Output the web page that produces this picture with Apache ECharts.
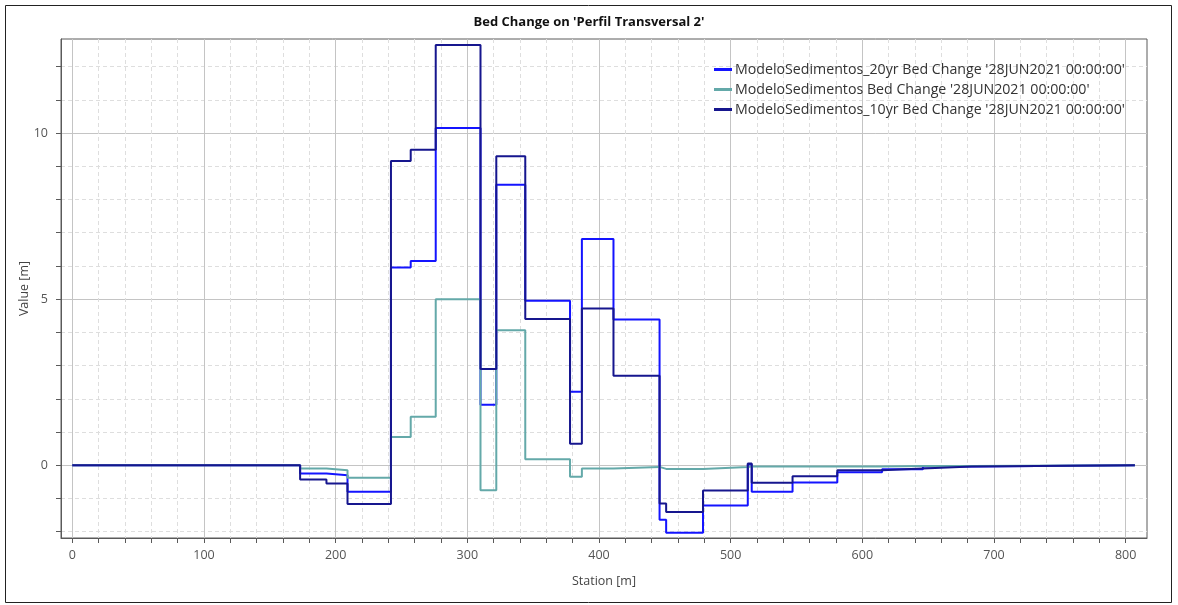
<!DOCTYPE html>
<html>
<head>
<meta charset="utf-8">
<script src="https://cdn.jsdelivr.net/npm/echarts@6/dist/echarts.min.js"></script>
<style>
html,body{margin:0;padding:0;background:#fff;}
#chart{width:1178px;height:605px;}
</style>
</head>
<body>
<div id="chart"></div>
<script>
// ---- data ----
var titleText = "Bed Change on 'Perfil Transversal 2'";
var xAxisName = "Station [m]";
var yAxisName = "Value [m]";
var seriesNames = [
  "ModeloSedimentos_20yr Bed Change '28JUN2021 00:00:00'",
  "ModeloSedimentos Bed Change '28JUN2021 00:00:00'",
  "ModeloSedimentos_10yr Bed Change '28JUN2021 00:00:00'"
];
// breakpoints (segment start stations), last entry is end of section
var stations = [0, 173, 193, 209, 242, 257, 276, 310, 322, 344, 378, 387, 411, 446, 451, 479, 513, 516, 547, 581, 615, 646, 683, 807];
var bed20yr = [0, -0.25, -0.3, -0.8, 5.95, 6.15, 10.15, 1.82, 8.44, 4.95, 2.21, 6.81, 4.39, -1.64, -2.03, -1.21, 0.02, -0.8, -0.52, -0.21, -0.12, -0.04, 0, 0];
var bedBase = [0, -0.1, -0.15, -0.38, 0.85, 1.46, 5.0, -0.75, 4.06, 0.18, -0.35, -0.1, -0.05, -0.11, -0.11, -0.05, -0.04, -0.04, -0.04, -0.04, -0.02, -0.02, 0, 0];
var bed10yr = [0, -0.43, -0.55, -1.17, 9.16, 9.5, 12.65, 2.9, 9.3, 4.4, 0.65, 4.72, 2.69, -1.15, -1.41, -0.76, 0.05, -0.53, -0.33, -0.15, -0.1, -0.04, 0, 0];
var xLabelValues = [0, 100, 200, 300, 400, 500, 600, 700, 800];
var xTickValues = [0,20,40,60,80,100,120,140,160,180,200,220,240,260,280,300,320,340,360,380,400,420,440,460,480,500,520,540,560,580,600,620,640,660,680,700,720,740,760,780,800];
var yLabelValues = [0, 5, 10];
var yTickValues = [-2,-1,0,1,2,3,4,5,6,7,8,9,10,11,12];
var xRange = [-8.6, 816.2];
var yRange = [-2.19, 12.83];

function pairs(xs, ys){ return xs.map(function(x,i){ return [x, ys[i]]; }); }

var colors = ['#1414ff', '#64a9a9', '#16168e'];
var fontFam = '"Open Sans", "Noto Sans", sans-serif';
var axisColor = '#5a5a5a';

var chart = echarts.init(document.getElementById('chart'), null, {renderer:'canvas'});
var option = {
  animation: false,
  backgroundColor: '#fff',
  title: {
    text: titleText, left: 'center', top: 11,
    textStyle: {fontFamily: fontFam, fontSize: 13, fontWeight: 'bold', color: '#111'}
  },
  graphic: [{
    type: 'rect', silent: true, z: -1,
    shape: {x: 5.5, y: 5.5, width: 1166, height: 597},
    style: {fill: null, stroke: '#222', lineWidth: 1}
  }],
  grid: {
    left: 61, top: 39, right: 31, bottom: 67,
    show: true, borderColor: axisColor, borderWidth: 1, backgroundColor: '#fff'
  },
  legend: {
    orient: 'vertical', left: 709, top: 56, itemGap: 3,
    icon: 'rect', itemWidth: 18, itemHeight: 3,
    textStyle: {fontFamily: fontFam, fontSize: 14.2, color: '#333', lineHeight: 17, padding: [0,0,0,-2]},
    data: seriesNames
  },
  xAxis: [{
    type: 'value', min: xRange[0], max: xRange[1],
    name: xAxisName, nameLocation: 'middle', nameGap: 37, nameMoveOverlap: false,
    nameTextStyle: {fontFamily: fontFam, fontSize: 12.5, color: '#444'},
    axisLine: {show: true, onZero: false, lineStyle: {color: axisColor}},
    axisTick: {show: true, inside: false, length: 5, customValues: xTickValues, lineStyle: {color: axisColor}},
    axisLabel: {customValues: xLabelValues, margin: 11, fontFamily: fontFam, fontSize: 12.5, color: '#555'},
    splitLine: {show: true, lineStyle: {color: '#dedede', type: [4, 3], width: 1}}
  }, {
    type: 'value', min: xRange[0], max: xRange[1], position: 'bottom',
    axisLine: {show: false}, axisLabel: {show: false},
    axisTick: {show: false, customValues: xLabelValues},
    splitLine: {show: true, lineStyle: {color: '#c4c4c4', width: 1}}
  }],
  yAxis: [{
    type: 'value', min: yRange[0], max: yRange[1],
    name: yAxisName, nameLocation: 'middle', nameGap: 30, nameMoveOverlap: false,
    nameTextStyle: {fontFamily: fontFam, fontSize: 12.5, color: '#444'},
    axisLine: {show: true, onZero: false, lineStyle: {color: axisColor}},
    axisTick: {show: true, inside: false, length: 5, customValues: yTickValues, lineStyle: {color: axisColor}},
    axisLabel: {customValues: yLabelValues, margin: 13, fontFamily: fontFam, fontSize: 12.5, color: '#555'},
    splitLine: {show: true, lineStyle: {color: '#dedede', type: [4, 3], width: 1}}
  }, {
    type: 'value', min: yRange[0], max: yRange[1], position: 'left',
    axisLine: {show: false}, axisLabel: {show: false},
    axisTick: {show: false, customValues: yLabelValues},
    splitLine: {show: true, lineStyle: {color: '#c4c4c4', width: 1}}
  }],
  series: [
    {name: seriesNames[0], type: 'line', step: 'end', showSymbol: false, symbol: 'none',
     data: pairs(stations, bed20yr), lineStyle: {color: colors[0], width: 2}, itemStyle: {color: colors[0]}},
    {name: seriesNames[1], type: 'line', step: 'end', showSymbol: false, symbol: 'none',
     data: pairs(stations, bedBase), lineStyle: {color: colors[1], width: 2}, itemStyle: {color: colors[1]}},
    {name: seriesNames[2], type: 'line', step: 'end', showSymbol: false, symbol: 'none',
     data: pairs(stations, bed10yr), lineStyle: {color: colors[2], width: 2}, itemStyle: {color: colors[2]}}
  ]
};
chart.setOption(option);
</script>
</body>
</html>
